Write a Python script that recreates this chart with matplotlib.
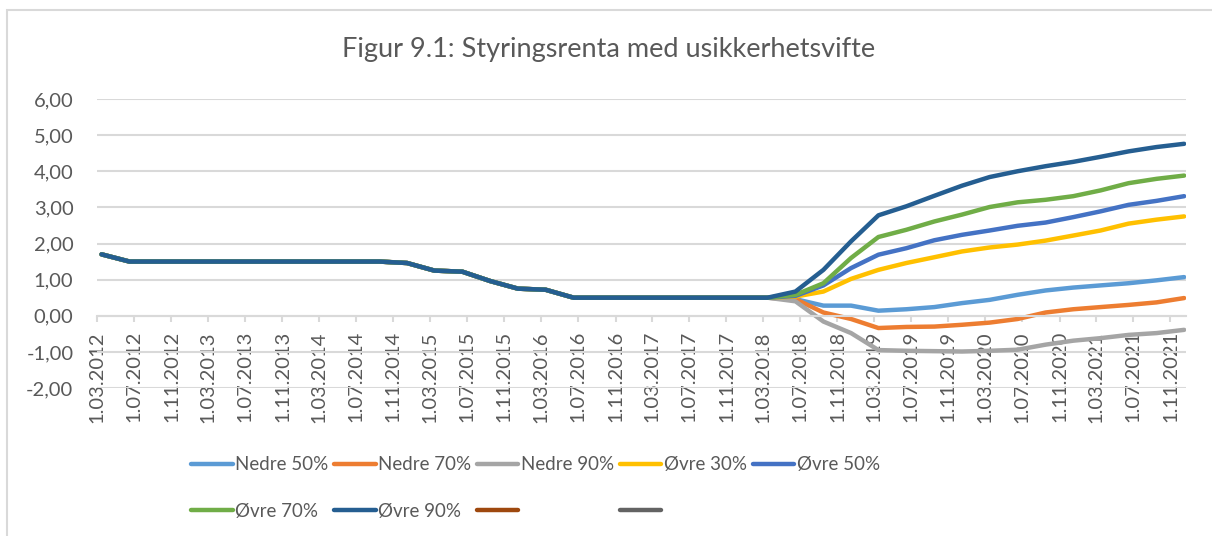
import numpy as np
import pandas as pd
import matplotlib
matplotlib.use('Agg')
import matplotlib.pyplot as plt
import matplotlib.dates as mdates
from matplotlib.lines import Line2D
from matplotlib.patches import Rectangle
from matplotlib.ticker import FuncFormatter, FixedLocator, FixedFormatter

plt.rcParams['font.family'] = ['Lato', 'DejaVu Sans']

TEXT = '#595959'
GRID = '#D9D9D9'

# quarterly points, 2012Q1 - 2021Q4 (plotted mid-quarter-end month)
quarters = pd.date_range('2012-03-01', periods=40, freq='3MS') + pd.Timedelta(days=15)
tick_dates = pd.date_range('2012-03-01', '2021-11-01', freq='4MS')
tick_labels = [f'{d.day}.{d.month:02d}.{d.year}' for d in tick_dates]

# policy rate history 2012Q1 - 2018Q1 (shared by all series)
history = [1.70, 1.50, 1.50, 1.50, 1.50, 1.50, 1.50, 1.50, 1.50, 1.50, 1.50,
           1.46, 1.25, 1.22, 0.96, 0.75, 0.72, 0.50, 0.50, 0.50, 0.50, 0.50,
           0.50, 0.50, 0.50]

# fan 2018Q2 - 2021Q4
nedre_50 = [0.46, 0.28, 0.28, 0.14, 0.18, 0.24, 0.35, 0.44, 0.58, 0.70, 0.78, 0.84, 0.90, 0.98, 1.07]
nedre_70 = [0.46, 0.09, -0.09, -0.34, -0.31, -0.30, -0.25, -0.19, -0.09, 0.09, 0.18, 0.24, 0.30, 0.37, 0.49]
nedre_90 = [0.40, -0.16, -0.48, -0.95, -0.97, -0.98, -0.99, -0.97, -0.94, -0.80, -0.69, -0.62, -0.53, -0.48, -0.39]
ovre_30 = [0.53, 0.67, 1.02, 1.27, 1.46, 1.62, 1.78, 1.89, 1.97, 2.08, 2.22, 2.36, 2.55, 2.66, 2.75]
ovre_50 = [0.55, 0.84, 1.32, 1.69, 1.87, 2.09, 2.24, 2.36, 2.49, 2.58, 2.73, 2.89, 3.07, 3.18, 3.31]
ovre_70 = [0.58, 0.90, 1.60, 2.18, 2.38, 2.61, 2.80, 3.01, 3.14, 3.21, 3.31, 3.47, 3.67, 3.79, 3.88]
ovre_90 = [0.67, 1.27, 2.06, 2.78, 3.03, 3.32, 3.60, 3.84, 4.00, 4.14, 4.26, 4.40, 4.55, 4.67, 4.76]

series = [
    ('Nedre 50%', nedre_50, '#5B9BD5'),
    ('Nedre 70%', nedre_70, '#ED7D31'),
    ('Nedre 90%', nedre_90, '#A5A5A5'),
    ('Øvre 30%', ovre_30, '#FFC000'),
    ('Øvre 50%', ovre_50, '#4472C4'),
    ('Øvre 70%', ovre_70, '#70AD47'),
    ('Øvre 90%', ovre_90, '#255E91'),
]
# two empty series that only show up in the legend
empty_series = [('', '#9E480E'), ('', '#636363')]

fig = plt.figure(figsize=(12.12, 5.36), dpi=100)
ax = fig.add_axes([97 / 1212, 1 - 388 / 536, (1186 - 97) / 1212, (388 - 99) / 536])

LW = 3.2
handles, labels = [], []
for name, fan, color in series:
    ax.plot(quarters, history + fan, color=color, lw=LW,
            solid_capstyle='round', solid_joinstyle='round')
    handles.append(Line2D([], [], color=color, lw=LW, solid_capstyle='round'))
    labels.append(name)
for name, color in empty_series:
    handles.append(Line2D([], [], color=color, lw=LW, solid_capstyle='round'))
    labels.append(name)

ax.set_ylim(-2, 6)
ax.set_yticks(np.arange(-2, 7, 1))
ax.yaxis.set_major_formatter(FuncFormatter(lambda v, p: f'{v:.2f}'.replace('.', ',')))
ax.set_xlim(pd.Timestamp('2012-03-01'), pd.Timestamp('2021-12-22'))
ax.xaxis.set_major_locator(FixedLocator(mdates.date2num(tick_dates)))
ax.xaxis.set_major_formatter(FixedFormatter(tick_labels))

ax.grid(axis='y', color=GRID, lw=1.5)
ax.set_axisbelow(True)
for s in ['top', 'right', 'left']:
    ax.spines[s].set_visible(False)
ax.spines['bottom'].set_position(('data', 0))
ax.spines['bottom'].set_color(GRID)
ax.spines['bottom'].set_linewidth(1.5)
ax.tick_params(axis='x', colors=GRID, length=4, width=1.5, labelcolor=TEXT,
               labelsize=14.5, pad=7, labelrotation=90)
ax.tick_params(axis='y', length=0, labelcolor=TEXT, labelsize=14.5, pad=17)

# legend rows like Excel: reorder so columns fill row-wise
order = [0, 5, 1, 6, 2, 7, 3, 8, 4]
fig.legend([handles[i] for i in order], [labels[i] for i in order],
           ncol=5, loc='center left', bbox_to_anchor=(182 / 1212, 1 - 488 / 536),
           borderpad=0, frameon=False, fontsize=13.5, labelcolor=TEXT,
           handlelength=2.2, handletextpad=0.15, columnspacing=0.3,
           labelspacing=1.55)

fig.text(609 / 1212, 1 - 50 / 536, 'Figur 9.1: Styringsrenta med usikkerhetsvifte',
         ha='center', va='center', fontsize=19.5, color=TEXT)

# chart area border (only top and left edge are inside the picture)
fig.patches.append(Rectangle((7 / 1212, -0.2), 1.2, 1.2 - 10 / 536,
                             transform=fig.transFigure, fill=False,
                             edgecolor=GRID, lw=1.5, clip_on=False))

fig.savefig('out.png', dpi=100)
